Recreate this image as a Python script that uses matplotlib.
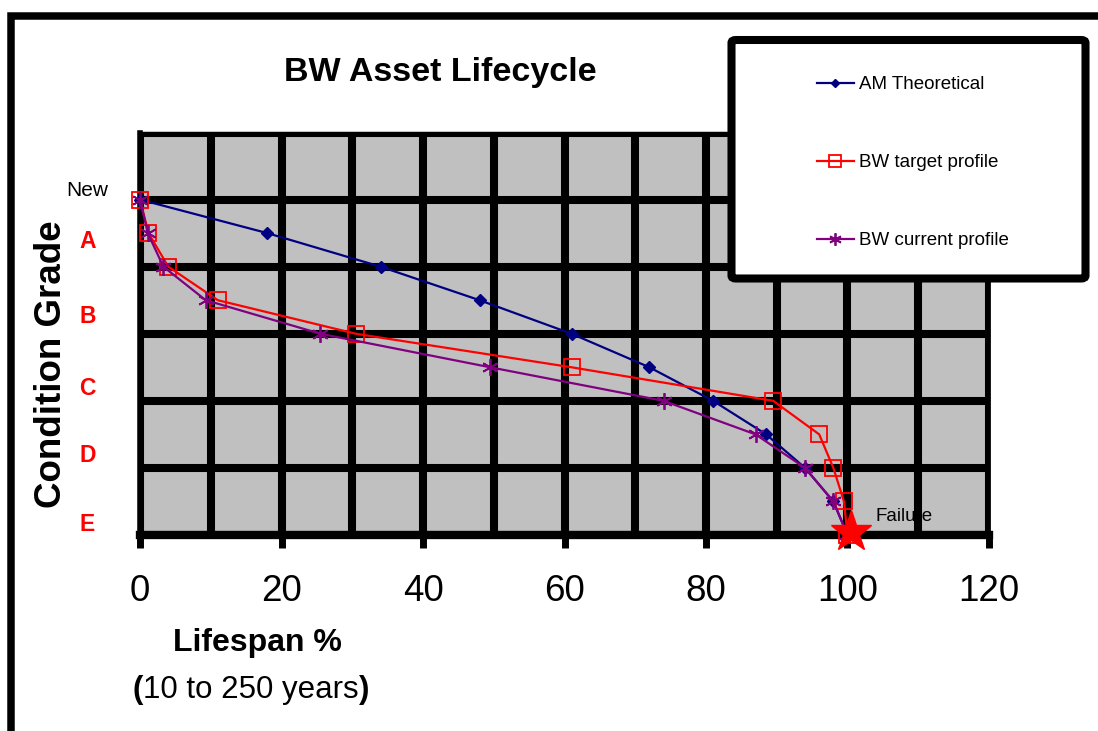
import numpy as np
import matplotlib
matplotlib.use('Agg')
import matplotlib.pyplot as plt
from matplotlib.patches import Rectangle, FancyBboxPatch

plt.rcParams['font.family'] = ['Liberation Sans', 'DejaVu Sans']

# condition grade steps (y) shared by the three profiles
grade = [5, 4.5, 4, 3.5, 3, 2.5, 2, 1.5, 1, 0.5, 0]
# lifespan %
am_theoretical = [0, 18, 34, 48, 61, 72, 81, 88.5, 94, 98, 100]
bw_target = [0, 1.2, 4, 11, 30.5, 61, 89.5, 96, 98, 99.5, 100]
bw_current = [0, 1.1, 3.3, 9.3, 25.5, 49.5, 74, 87, 94, 98, 100]

grade_names = ['New', 'A', 'B', 'C', 'D', 'E']
grade_label_y = [5.14, 4.37, 3.26, 2.18, 1.18, 0.15]
x_ticks = [0, 20, 40, 60, 80, 100, 120]
failure_x, failure_y = 100.5, 0.05

W, H = 1098, 731
fig = plt.figure(figsize=(W/100, H/100), dpi=100)
ax = fig.add_axes([140/W, 1-535/H, (989-140)/W, (535-132.5)/H])
ax.set_facecolor('#C0C0C0')
ax.set_xlim(0, 120)
ax.set_ylim(0, 6)

ax.set_xticks(x_ticks)
ax.set_xticks(np.arange(0, 121, 10), minor=True)
ax.set_yticks(np.arange(0, 7, 1))
ax.set_yticklabels([])
ax.tick_params(axis='y', length=0)
ax.tick_params(axis='x', which='major', direction='out', length=9, width=5,
               pad=19, labelsize=26.5)
ax.tick_params(axis='x', which='minor', length=0)
ax.grid(True, which='both', color='black', linewidth=5.8)
ax.set_axisbelow(True)

for side, lw in [('left', 4), ('bottom', 6), ('top', 2.5), ('right', 2)]:
    ax.spines[side].set_linewidth(lw)
    ax.spines[side].set_color('black')

l1, = ax.plot(am_theoretical, grade, color='#000080', lw=1.6, marker='D',
              markersize=6, label='AM Theoretical', clip_on=False, zorder=3)
l2, = ax.plot(bw_target, grade, color='#FF0000', lw=1.6, marker='s',
              markersize=11.5, markerfacecolor='none', markeredgewidth=1.3,
              label='BW target profile', clip_on=False, zorder=3)
l3, = ax.plot(bw_current, grade, color='#800080', lw=1.6, marker=(6, 2, 0),
              markersize=12, markeredgewidth=1.3, label='BW current profile',
              clip_on=False, zorder=3)
ax.plot([failure_x], [failure_y], marker='*', color='#FF0000', markersize=31,
        clip_on=False, zorder=4)
ax.text(failure_x + 3.5, failure_y + 0.22, 'Failure', fontsize=13.5,
        ha='left', va='center')

for name, gy in zip(grade_names, grade_label_y):
    if name == 'New':
        ax.text(-0.062, gy, name, transform=ax.get_yaxis_transform(),
                fontsize=15, ha='center', va='center')
    else:
        ax.text(-0.062, gy, name, transform=ax.get_yaxis_transform(),
                fontsize=16.5, fontweight='bold', color='#FF0000',
                ha='center', va='center')

fig.text(52/W, 1-364/H, 'Condition Grade', rotation=90, fontsize=26.5,
         fontweight='bold', ha='center', va='center')
fig.text(440/W, 1-72/H, 'BW Asset Lifecycle', fontsize=24.5,
         fontweight='bold', ha='center', va='center')
fig.text(257/W, 1-643/H, 'Lifespan %', fontsize=23, fontweight='bold',
         ha='center', va='center')
t1 = fig.text(133/W, 1-690/H, '(', fontsize=22.5, fontweight='bold',
              ha='left', va='center')
a2 = ax.annotate('10 to 250 years', xy=(1, 0), xycoords=t1, fontsize=22.5,
                 va='bottom', ha='left', annotation_clip=False)
a3 = ax.annotate(')', xy=(1, 0), xycoords=a2, fontsize=22.5,
                 fontweight='bold', va='bottom', ha='left',
                 annotation_clip=False)

# outer chart border (cut at right and bottom)
fig.patches.append(Rectangle((11/W, -0.1), 1.2, 1.1 - 15.5/H,
                             transform=fig.transFigure, fill=False,
                             ec='black', lw=5.4, zorder=1))
# legend box
fig.patches.append(FancyBboxPatch((731.5/W, 1-278.5/H), (1085.5-731.5)/W,
                                  (278.5-40)/H,
                                  boxstyle='round,pad=0,rounding_size=0.004',
                                  transform=fig.transFigure, fc='white',
                                  ec='black', lw=5.8, zorder=2))
leg = fig.legend(handles=[l1, l2, l3], loc='upper left',
                 bbox_to_anchor=(817/W, 1-76/H), frameon=False, fontsize=13.5,
                 borderpad=0, borderaxespad=0, handlelength=1.95,
                 handletextpad=0.3, labelspacing=3.25, numpoints=1,
                 markerscale=0.75)
leg.set_zorder(6)

fig.savefig('out.png', dpi=100)
